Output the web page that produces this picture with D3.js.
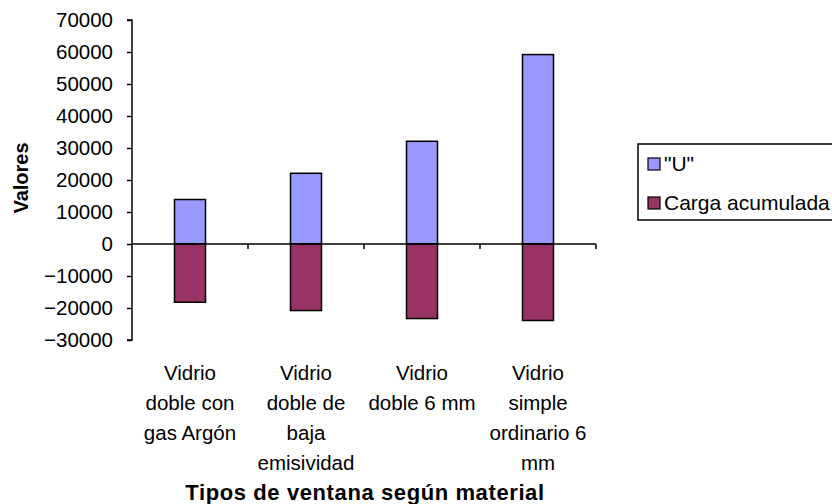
<!DOCTYPE html>
<html>
<head>
<meta charset="utf-8">
<script src="https://cdn.jsdelivr.net/npm/d3@7/dist/d3.min.js"></script>
<style>
  html, body { margin: 0; padding: 0; background: #ffffff; }
  svg { display: block; }
  text { font-family: "Liberation Sans", Arial, sans-serif; fill: #000; }
</style>
</head>
<body>
<svg id="chart" width="832" height="504"></svg>
<script>
const categories = [
  "Vidrio\ndoble con\ngas Argón",
  "Vidrio\ndoble de\nbaja\nemisividad",
  "Vidrio\ndoble 6 mm",
  "Vidrio\nsimple\nordinario 6\nmm"
];
const seriesNames = ["\"U\"", "Carga acumulada"];
const valuesU = [13900, 22100, 32100, 59200];
const valuesCarga = [-18200, -20800, -23300, -23900];
const yTicks = [70000, 60000, 50000, 40000, 30000, 20000, 10000, 0, -10000, -20000, -30000];
const colors = ["#9999FF", "#993366"];
const yTitle = "Valores";
const xTitle = "Tipos de ventana según material";

const svg = d3.select("#chart");
const plot = { left: 132, right: 596, top: 20, bottom: 340 };

const y = d3.scaleLinear().domain([-30000, 70000]).range([plot.bottom, plot.top]);
const x = d3.scaleBand().domain(categories.map((d, i) => i)).range([plot.left, plot.right]).paddingInner(0).paddingOuter(0);

// Y axis
const yAxis = d3.axisLeft(y).tickValues(yTicks).tickSize(5).tickPadding(14).tickFormat(d3.format("d"));
const gy = svg.append("g").attr("transform", `translate(${plot.left},0)`).call(yAxis);
gy.select(".domain").attr("stroke", "#000").attr("stroke-width", 1.5).attr("d", `M-5,${y(70000)}H0V${y(-30000)}H-5`);
gy.selectAll(".tick line").attr("stroke", "#000").attr("stroke-width", 1.5);
gy.selectAll(".tick text").attr("font-size", "20.5px").attr("font-family", "Liberation Sans, Arial, sans-serif").attr("fill", "#000");

// Bars
const bw = 31;
const data = categories.map((c, i) => ({ i, u: valuesU[i], c: valuesCarga[i] }));
svg.append("g").selectAll("rect.u").data(data).join("rect")
  .attr("x", d => x(d.i) + x.bandwidth() / 2 - bw / 2)
  .attr("width", bw)
  .attr("y", d => y(d.u))
  .attr("height", d => y(0) - y(d.u))
  .attr("fill", colors[0]).attr("stroke", "#000").attr("stroke-width", 1.5);
svg.append("g").selectAll("rect.c").data(data).join("rect")
  .attr("x", d => x(d.i) + x.bandwidth() / 2 - bw / 2)
  .attr("width", bw)
  .attr("y", d => y(0))
  .attr("height", d => y(d.c) - y(0))
  .attr("fill", colors[1]).attr("stroke", "#000").attr("stroke-width", 1.5);

// X axis line at zero with ticks at band boundaries
const gx = svg.append("g");
gx.append("line").attr("x1", plot.left).attr("x2", plot.right).attr("y1", y(0)).attr("y2", y(0))
  .attr("stroke", "#000").attr("stroke-width", 1.5);
const bounds = categories.map((d, i) => x(i) + x.bandwidth());
gx.selectAll("line.t").data(bounds).join("line")
  .attr("x1", d => d).attr("x2", d => d).attr("y1", y(0)).attr("y2", y(0) + 5)
  .attr("stroke", "#000").attr("stroke-width", 1.5);

// Category labels
const labels = svg.append("g");
categories.forEach((c, i) => {
  const t = labels.append("text")
    .attr("x", x(i) + x.bandwidth() / 2)
    .attr("y", 380)
    .attr("text-anchor", "middle")
    .attr("font-size", "20.5px");
  c.split("\n").forEach((line, k) => {
    t.append("tspan").attr("x", x(i) + x.bandwidth() / 2).attr("y", 380 + k * 30).text(line);
  });
});

// Axis titles
svg.append("text").attr("x", (plot.left + plot.right) / 2 + 1).attr("y", 500)
  .attr("text-anchor", "middle").attr("font-size", "22px").attr("font-weight", "bold")
  .attr("letter-spacing", "0.6px").text(xTitle);
svg.append("text").attr("transform", `translate(28,178) rotate(-90)`)
  .attr("text-anchor", "middle").attr("font-size", "20px").attr("font-weight", "bold").text(yTitle);

// Legend
const lg = svg.append("g");
lg.append("rect").attr("x", 638).attr("y", 144).attr("width", 220).attr("height", 76)
  .attr("fill", "#fff").attr("stroke", "#000").attr("stroke-width", 1.5);
const legY = [164, 203];
seriesNames.forEach((name, k) => {
  lg.append("rect").attr("x", 648).attr("y", legY[k] - 6).attr("width", 12).attr("height", 12)
    .attr("fill", colors[k]).attr("stroke", "#000").attr("stroke-width", 1.2);
  lg.append("text").attr("x", 664).attr("y", legY[k] + 7).attr("font-size", "21px").text(name);
});
</script>
</body>
</html>
